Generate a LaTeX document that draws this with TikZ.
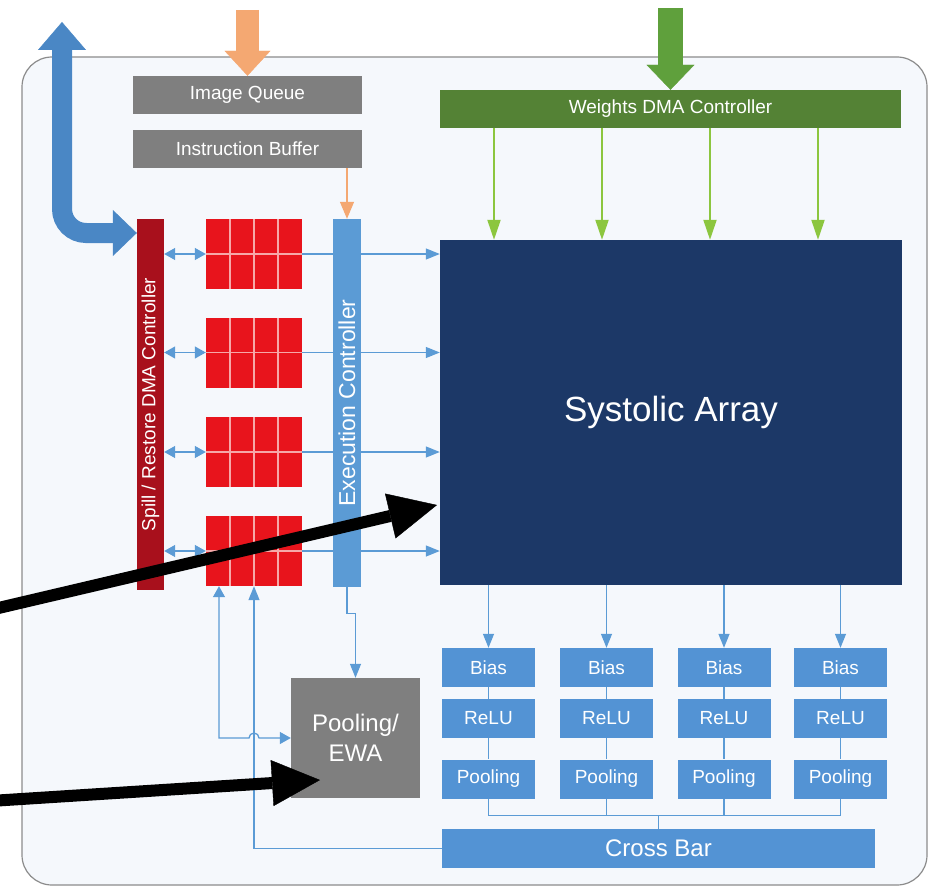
\documentclass[tikz,border=0pt]{standalone}
\usepackage{fontspec}
\setmainfont{Liberation Sans}
\usetikzlibrary{positioning, arrows.meta}

\definecolor{boxgrey}{HTML}{7F7F7F}
\definecolor{dmagreen}{HTML}{548235}
\definecolor{wgreen}{HTML}{8CC63F}
\definecolor{biggreen}{HTML}{5FA03C}
\definecolor{navy}{HTML}{1C3867}
\definecolor{spillred}{HTML}{A8101C}
\definecolor{memred}{HTML}{E8141C}
\definecolor{memgrid}{HTML}{F6A8A8}
\definecolor{execblue}{HTML}{5B9BD5}
\definecolor{unitblue}{HTML}{5393D4}
\definecolor{wireblue}{HTML}{5B9BD5}
\definecolor{fatblue}{HTML}{4A87C5}
\definecolor{orng}{HTML}{F4A872}
\definecolor{panel}{HTML}{F5F8FC}
\definecolor{framegrey}{HTML}{8C8C8C}

\begin{document}
\begin{tikzpicture}[x=1pt,y=-1pt,
  box/.style={inner sep=0pt, text=white, font=\fontsize{19}{23}\selectfont},
  greybox/.style={box, fill=boxgrey, minimum width=229pt, minimum height=38pt},
  unitbox/.style={box, fill=unitblue, minimum width=93pt, minimum height=39pt},
  memline/.style={draw=memgrid, line width=1.2pt},
  memblock/.style={fill=memred, minimum width=96pt, minimum height=70pt, inner sep=0pt,
    path picture={
      \foreach \k in {1,2,3}
        \draw[memline] ([xshift=\k*24pt]path picture bounding box.north west)
          -- ([xshift=\k*24pt]path picture bounding box.south west);
      \draw[memline] (path picture bounding box.west) -- (path picture bounding box.east);}},
  wire/.style={draw=wireblue, line width=1.3pt},
  onearrow/.style={-{Triangle[length=14pt,width=11pt]}},
  twoarrow/.style={{Triangle[length=11pt,width=12pt]}-{Triangle[length=11pt,width=12pt]}},
  gwire/.style={draw=wgreen, line width=2pt, -{Triangle[length=20pt,width=13pt]}},
  callout/.style={black, line width=12pt, -{Triangle[length=48pt,width=46pt,line width=0.4pt]}}]
\useasboundingbox (0,0) rectangle (943,888);

% chip outline
\draw[draw=framegrey, fill=panel, line width=1.2pt, rounded corners=30pt] (22,57) rectangle (927,885);

% buffers and weights
\node[greybox] (iq) at (247.5,95) {Image Queue};
\node[greybox] (ib) at (247.5,149) {Instruction Buffer};
\node[box, fill=dmagreen, minimum width=461pt, minimum height=38pt] (wdma) at (670.5,109) {Weights DMA Controller};
\node[box, fill=navy, minimum width=462pt, minimum height=345pt, font=\fontsize{35}{40}\selectfont] (sa) at (671,412.5) {Systolic Array};

% spill / restore
\node[fill=spillred, minimum width=27pt, minimum height=371pt, inner sep=0pt] (spill) at (150.5,404.5) {};
\node[box, rotate=90] (spilltxt) at (spill) {Spill / Restore DMA Controller};

% unified buffer blocks
\foreach \i/\y in {1/254,2/352.5,3/452,4/551}
  \node[memblock] (m\i) at (254,\y) {};
\foreach \i in {1,...,4} {
  \draw[wire, onearrow] (m\i.east) -- (m\i.east -| sa.west);
  \draw[wire, twoarrow] (spill.east |- m\i) -- (m\i.west);
}

% execution controller
\node[box, fill=execblue, minimum width=28pt, minimum height=368pt] (exec) at (347,403) {};
\node[box, rotate=90, font=\fontsize{23}{26}\selectfont] (exectxt) at (exec) {Execution Controller};
\draw[draw=orng, line width=1.3pt, -{Triangle[length=17pt,width=14pt]}] (ib.south -| exec) -- (exec.north);

% weights into the array
\foreach \x in {494,602,710,818}
  \draw[gwire] (wdma.south -| \x,0) -- (sa.north -| \x,0);

% activation columns
\foreach \i/\x in {1/488.5,2/606.5,3/724,4/840.5} {
  \node[unitbox] (b\i) at (\x,667.5) {Bias};
  \node[unitbox] (r\i) at (\x,718.5) {ReLU};
  \node[unitbox] (p\i) at (\x,779) {Pooling};
  \draw[wire] (b\i) -- (r\i) -- (p\i);
  \draw[wire, onearrow] (b\i.north |- sa.south) -- (b\i.north);
  \draw[wire] (p\i.south) -- ++(0,17);
}
\draw[wire] ([yshift=-17pt]p1.south) -- ([yshift=-17pt]p4.south);
\node[box, fill=unitblue, minimum width=433pt, minimum height=39pt, font=\fontsize{24}{28}\selectfont] (cb) at (658.5,848.5) {Cross Bar};
\draw[wire] (cb.north) -- ++(0,-14);

% pooling / EWA
\node[box, fill=boxgrey, minimum width=129pt, minimum height=120pt, align=center, font=\fontsize{24}{30}\selectfont] (pe) at (355.5,738) {Pooling/\\EWA};
\draw[wire, onearrow] (exec.south) -- ++(0,26) -| (pe.north);
\draw[wire, twoarrow] (m4.south -| 219,0) -- (219,738) -- (249,738)
  arc[start angle=180, end angle=0, radius=5pt] -- (pe.west);
\draw[wire, {Triangle[length=14pt,width=11pt]}-] (m4.south -| 254,0) |- (cb.west);

% off-chip transfers
\coordinate (imgin) at (247.5,10);
\coordinate (wtin) at (670.5,8);
\coordinate (dmaout) at (62,22);
\draw[orng, line width=23pt, -{Triangle[length=25pt,width=46pt,line width=0.4pt]}] (imgin) -- (iq.north);
\draw[biggreen, line width=25pt, -{Triangle[length=25pt,width=48pt,line width=0.4pt]}] (wtin) -- (wdma.north);
\draw[fatblue, line width=20pt, rounded corners=24pt,
  {Triangle[length=28pt,width=48pt,line width=0.4pt]}-{Triangle[length=24pt,width=46pt,line width=0.4pt]}]
  (dmaout) |- (spill.west |- 0,233);

% callouts
\coordinate (c1from) at (-10,610);
\coordinate (c1to) at (437,505);
\coordinate (c2from) at (-10,801);
\coordinate (c2to) at (320,780);
\draw[callout] (c1from) -- (c1to);
\draw[callout] (c2from) -- (c2to);
\end{tikzpicture}
\end{document}
